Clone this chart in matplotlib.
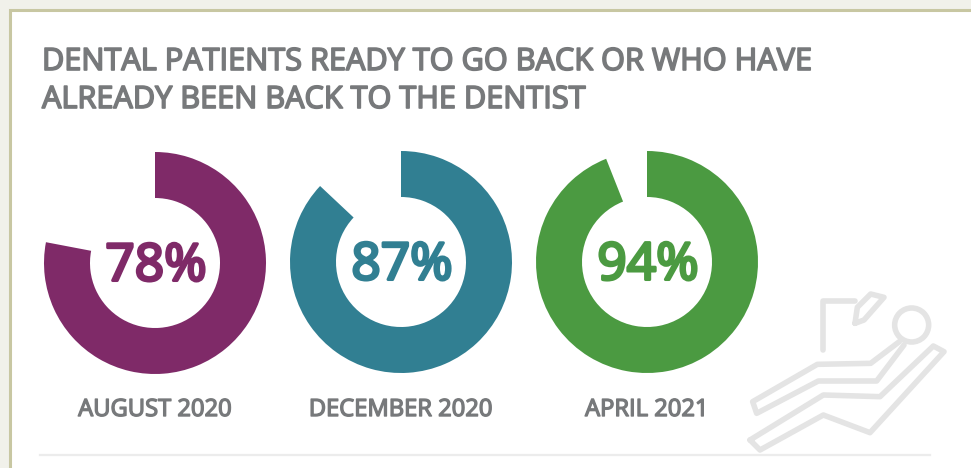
import matplotlib
matplotlib.use("Agg")
import matplotlib.pyplot as plt
import matplotlib.patheffects as pe
from matplotlib.patches import Rectangle, Circle

W, H = 971, 468
months = ["AUGUST 2020", "DECEMBER 2020", "APRIL 2021"]
percent_ready = [78, 87, 94]
ring_colors = ["#7f2a68", "#317f92", "#4b9a41"]
ring_centers = [(155, 263), (401, 262), (647, 262)]
title_lines = ["DENTAL PATIENTS READY TO GO BACK OR WHO HAVE",
               "ALREADY BEEN BACK TO THE DENTIST"]

plt.rcParams["font.family"] = ["Open Sans", "DejaVu Sans"]

fig = plt.figure(figsize=(W / 100, H / 100), dpi=100, facecolor="#f1f1ea")
ax = fig.add_axes([0, 0, 1, 1])


def flip(y):
    """Top-down pixel row to axes y."""
    return H - y


def heavier(color, width):
    """Outline that thickens a regular-weight face."""
    return [pe.withStroke(linewidth=width, foreground=color)]


# Card with its olive border, running off the right and bottom edges
ax.add_patch(Rectangle((9.5, flip(480)), 980, 470, fc="white", ec="#c8c7a2", lw=2.2, zorder=0))

# Donut rings: clockwise from twelve o'clock, remainder left transparent
for value, color, (cx, cy), month in zip(percent_ready, ring_colors, ring_centers, months):
    ax.pie([value, 100 - value], colors=[color, "none"], startangle=90, counterclock=False,
           center=(cx, flip(cy)), radius=111, frame=True,
           wedgeprops=dict(width=46, linewidth=0))
    ax.text(cx + 1, flip(cy) - 4, f"{value}%", color=color, fontsize=37,
            ha="center", va="center", path_effects=heavier(color, 2.2))
    ax.text(cx, flip(410), month, color="#77797b", fontsize=17.1,
            ha="center", va="center", path_effects=heavier("#77797b", 1.0))

for line, row in zip(title_lines, [62, 100]):
    ax.text(42, flip(row), line, color="#77797b", fontsize=22.1,
            ha="left", va="center", path_effects=heavier("#77797b", 1.2))

# Footer rule
ax.plot([40, 930], [flip(455), flip(455)], color="#ececec", lw=1.6, zorder=1)

# Reclining dental chair icon, traced in a zoomed pixel grid
icon_color = "#e4e4e4"


def icon_xy(points):
    return [(740 + px / 3, flip(270 + py / 3)) for px, py in points]


def icon_line(points, closed=False):
    xy = icon_xy(points)
    if closed:
        xy.append(xy[0])
    xs, ys = zip(*xy)
    ax.plot(xs, ys, color=icon_color, lw=4, solid_capstyle="round",
            solid_joinstyle="round", zorder=2)


icon_line([(250, 240), (250, 92), (345, 92)])
icon_line([(345, 160), (352, 112), (392, 72), (432, 82), (372, 150)], closed=True)
hx, hy = icon_xy([(515, 165)])[0]
ax.add_patch(Circle((hx, hy), 17, fc="none", ec=icon_color, lw=4, zorder=2))
icon_line([(478, 215), (392, 280), (232, 283), (38, 395), (50, 430), (235, 333),
           (410, 333), (492, 225)])
icon_line([(30, 510), (250, 375), (420, 380), (580, 228), (612, 245), (390, 488),
           (250, 435), (60, 540)], closed=True)

ax.set_xlim(0, W)
ax.set_ylim(0, H)
ax.set_aspect("auto")
ax.axis("off")
fig.savefig("out.png", dpi=100, facecolor=fig.get_facecolor())
